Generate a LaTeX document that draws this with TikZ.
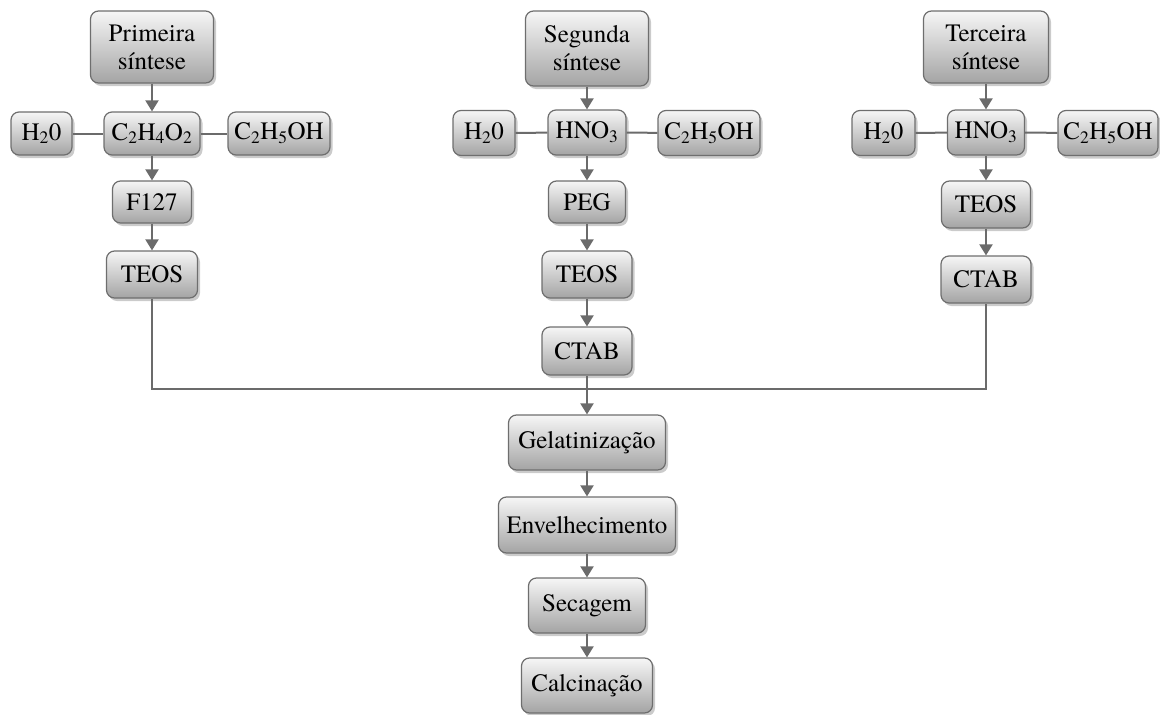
\documentclass[tikz,border=0pt]{standalone}
\usepackage{fontspec}
\setmainfont{TeX Gyre Termes}
\usetikzlibrary{shadows,arrows.meta}
\definecolor{edgegray}{HTML}{6E6E6E}
\definecolor{linegray}{HTML}{6B6B6B}
\definecolor{topgray}{HTML}{F6F6F6}
\definecolor{botgray}{HTML}{A4A4A4}
\begin{document}
\begin{tikzpicture}[x=1pt,y=-1pt,
  box/.style={draw=edgegray, line width=1.2pt, rounded corners=8pt,
    top color=topgray, bottom color=botgray,
    drop shadow={shadow xshift=2.5pt, shadow yshift=-3pt, fill=black!45, opacity=0.45},
    inner sep=0pt, align=center, text=black,
    font=\fontsize{25}{28}\selectfont},
  arr/.style={draw=linegray, line width=2pt, -{Triangle[width=13pt,length=11pt]}},
  ln/.style={draw=linegray, line width=2pt}]
\useasboundingbox (0,0) rectangle (1160,715);
% column 1
\node[box, minimum width=123pt, minimum height=72pt] (p1) at (152,47) {Primeira\\síntese};
\node[box, minimum width=96pt, minimum height=43pt] (c1) at (152,133.5) {C\textsubscript{2}H\textsubscript{4}O\textsubscript{2}};
\node[box, minimum width=61pt, minimum height=43pt] (h1) at (41.5,133.5) {H\textsubscript{2}0};
\node[box, minimum width=102pt, minimum height=43pt] (e1) at (279,133.5) {C\textsubscript{2}H\textsubscript{5}OH};
\node[box, minimum width=79pt, minimum height=42pt] (f1) at (152,202) {F127};
\node[box, minimum width=91pt, minimum height=47pt] (t1) at (152,274.5) {TEOS};
% column 2
\node[box, minimum width=123pt, minimum height=75pt] (p2) at (587,48.5) {Segunda\\síntese};
\node[box, minimum width=78pt, minimum height=45pt] (c2) at (587,132.5) {HNO\textsubscript{3}};
\node[box, minimum width=62pt, minimum height=45pt] (h2) at (484,133) {H\textsubscript{2}0};
\node[box, minimum width=102pt, minimum height=45pt] (e2) at (709,133) {C\textsubscript{2}H\textsubscript{5}OH};
\node[box, minimum width=77pt, minimum height=42pt] (g2) at (587,202) {PEG};
\node[box, minimum width=90pt, minimum height=47pt] (t2) at (587,274.5) {TEOS};
\node[box, minimum width=90pt, minimum height=48pt] (b2) at (587,351) {CTAB};
% column 3
\node[box, minimum width=125pt, minimum height=72pt] (p3) at (986,47) {Terceira\\síntese};
\node[box, minimum width=77pt, minimum height=45pt] (c3) at (986,132.5) {HNO\textsubscript{3}};
\node[box, minimum width=63pt, minimum height=45pt] (h3) at (883.5,133) {H\textsubscript{2}0};
\node[box, minimum width=100pt, minimum height=45pt] (e3) at (1108,133) {C\textsubscript{2}H\textsubscript{5}OH};
\node[box, minimum width=89pt, minimum height=47pt] (t3) at (986,204.5) {TEOS};
\node[box, minimum width=90pt, minimum height=47pt] (b3) at (986,279.5) {CTAB};
% bottom chain
\node[box, minimum width=157pt, minimum height=55pt] (gel) at (587,442.5) {Gelatinização};
\node[box, minimum width=177pt, minimum height=56pt] (env) at (587,525) {Envelhecimento};
\node[box, minimum width=117pt, minimum height=55pt] (sec) at (587,605.5) {Secagem};
\node[box, minimum width=131pt, minimum height=55pt] (cal) at (587,685.5) {Calcinação};
% junction coordinates
\coordinate (jl) at (152,389);
\coordinate (jm) at (587,389);
\coordinate (jr) at (986,389);
% connectors column 1
\draw[arr] (p1) -- (c1);
\draw[ln] (h1) -- (c1);
\draw[ln] (c1) -- (e1);
\draw[arr] (c1) -- (f1);
\draw[arr] (f1) -- (t1);
% column 2
\draw[arr] (p2) -- (c2);
\draw[ln] (h2) -- (c2);
\draw[ln] (c2) -- (e2);
\draw[arr] (c2) -- (g2);
\draw[arr] (g2) -- (t2);
\draw[arr] (t2) -- (b2);
% column 3
\draw[arr] (p3) -- (c3);
\draw[ln] (h3) -- (c3);
\draw[ln] (c3) -- (e3);
\draw[arr] (c3) -- (t3);
\draw[arr] (t3) -- (b3);
% merge
\draw[ln] (t1.south) -- (jl) -- (jr) -- (b3.south);
\draw[ln] (b2.south) -- (jm);
\draw[arr] (jm) -- (gel.north);
\draw[arr] (gel) -- (env);
\draw[arr] (env) -- (sec);
\draw[arr] (sec) -- (cal);
\end{tikzpicture}
\end{document}
